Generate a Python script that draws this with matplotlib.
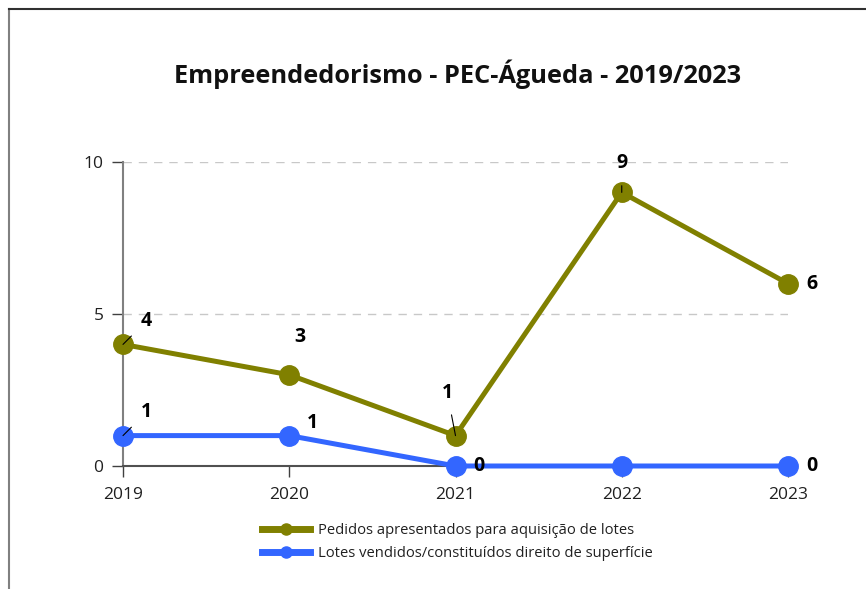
import matplotlib
matplotlib.use("Agg")
import matplotlib.pyplot as plt
from matplotlib.lines import Line2D

years = ["2019", "2020", "2021", "2022", "2023"]
pedidos = [4, 3, 1, 9, 6]
lotes = [1, 1, 0, 0, 0]
series_names = ["Pedidos apresentados para aquisição de lotes",
                "Lotes vendidos/constituídos direito de superfície"]
title = "Empreendedorismo - PEC-Águeda - 2019/2023"
yticks = [0, 5, 10]

plt.rcParams['font.family'] = ['Open Sans', 'DejaVu Sans']

W, H = 866, 589
fig = plt.figure(figsize=(W / 100, H / 100), dpi=100)
ax = fig.add_axes([123 / W, 1 - 466 / H, (788 - 123) / W, (466 - 162) / H])

olive = "#808000"
blue = "#3366FF"
x = list(range(len(years)))

ax.plot(x, pedidos, color=olive, lw=3.6, marker='o', ms=14, clip_on=False, zorder=4,
        label=series_names[0])
ax.plot(x, lotes, color=blue, lw=3.6, marker='o', ms=14, clip_on=False, zorder=5,
        label=series_names[1])

ax.set_xlim(0, 4)
ax.set_ylim(0, 10)
ax.set_yticks(yticks)
ax.set_xticks(x)
ax.set_xticklabels(years)
ax.tick_params(axis='both', labelsize=12.5, length=8, width=1, direction='out')
ax.tick_params(axis='x', colors='#404040', labelcolor='#202020', pad=7)
ax.tick_params(axis='y', colors='#404040', labelcolor='#202020', pad=6)

for s in ['top', 'right']:
    ax.spines[s].set_visible(False)
ax.spines['left'].set_color('#808080')
ax.spines['left'].set_linewidth(1.5)
ax.spines['bottom'].set_color('#505050')
ax.spines['bottom'].set_linewidth(1.5)
ax.spines['bottom'].set_zorder(3)

for yv in yticks[1:]:
    ax.axhline(yv, color='#c8c8c8', lw=1, ls=(0, (6, 5)), zorder=1)

fig.text(458 / W, 1 - 74 / H, title, fontsize=18.3, fontweight='bold',
         ha='center', va='center', color='#111111')

lbl = dict(fontsize=14, fontweight='bold', color='black', zorder=6)
def label(xi, yi, text, dx, dy, leader=False):
    ax.annotate(text, (xi, yi), xytext=(dx, dy), textcoords='offset points',
                ha='center', va='center', annotation_clip=False,
                arrowprops=dict(arrowstyle='-', color='black', lw=0.8,
                                shrinkA=7, shrinkB=0) if leader else None, **lbl)

label(0, pedidos[0], "4", 17, 17, leader=True)
label(1, pedidos[1], "3", 8, 27)
label(2, pedidos[2], "1", -6, 31, leader=True)
label(3, pedidos[3], "9", 0, 21, leader=True)
label(4, pedidos[4], "6", 17, 0)
label(0, lotes[0], "1", 17, 17, leader=True)
label(1, lotes[1], "1", 17, 9)
label(2, lotes[2], "0", 17, 0)
label(4, lotes[4], "0", 17, 0)

leg = fig.legend(handles=[Line2D([], [], color=olive, lw=5, marker='o', ms=8),
                          Line2D([], [], color=blue, lw=5, marker='o', ms=8)],
                 labels=series_names, loc='center', bbox_to_anchor=(457 / W, 1 - 542 / H),
                 frameon=False, fontsize=10.6, handlelength=3.3, labelspacing=0.55,
                 handletextpad=0.5)
for t in leg.get_texts():
    t.set_color('#202020')

# figure border (cropped on right and bottom)
fig.add_artist(Line2D([8.5 / W, 8.5 / W], [0, 1 - 9 / H], transform=fig.transFigure,
                      color='#808080', lw=1.5))
fig.add_artist(Line2D([8.5 / W, 1], [1 - 9 / H, 1 - 9 / H], transform=fig.transFigure,
                      color='#303030', lw=1.5))

fig.savefig("out.png", dpi=100)
